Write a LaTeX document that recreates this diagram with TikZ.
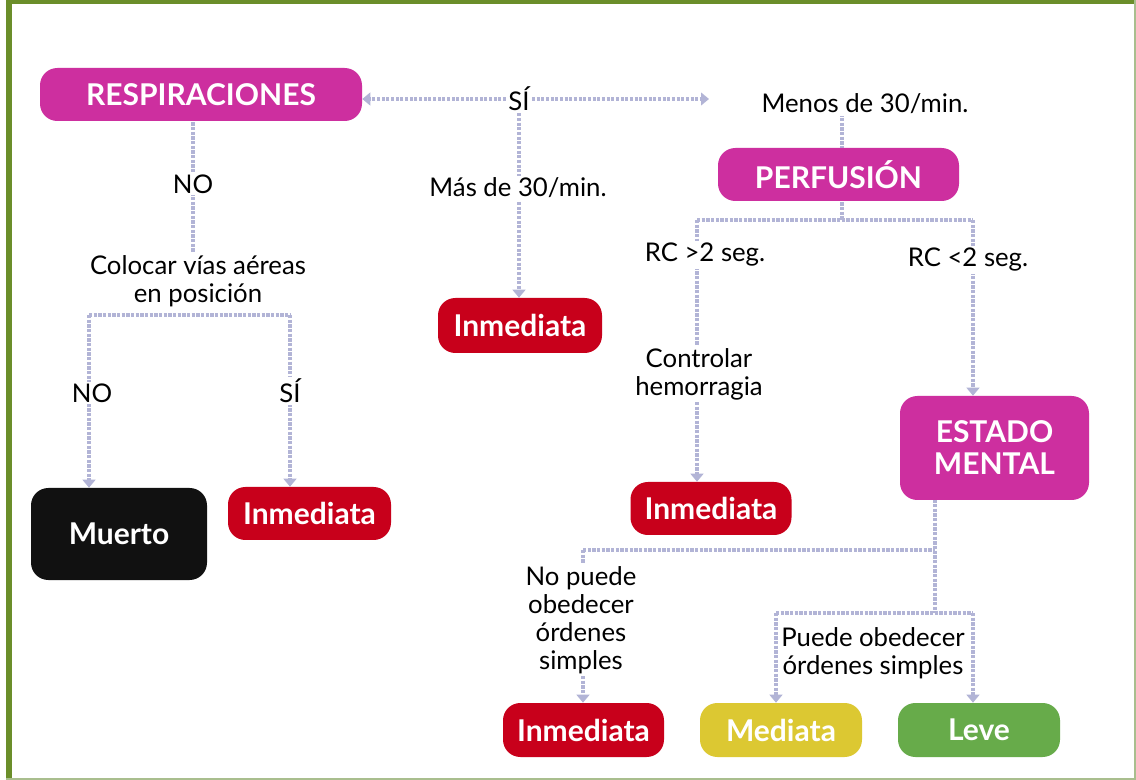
\documentclass[tikz,border=0pt]{standalone}
\usepackage{fontspec}
\setmainfont{Lato}
\usetikzlibrary{arrows.meta}
\definecolor{frameC}{HTML}{6B8E2A}
\definecolor{frameL}{HTML}{A9BE8E}
\definecolor{lineC}{HTML}{B2B4D6}
\definecolor{magC}{HTML}{CD2F9F}
\definecolor{redC}{HTML}{C8001B}
\definecolor{yelC}{HTML}{DCC832}
\definecolor{grnC}{HTML}{67AB4A}
\definecolor{blkC}{HTML}{111111}
\pgfdeclarelayer{back}
\pgfdeclarelayer{bg}
\pgfsetlayers{back,bg,main}
\begin{document}
\begin{tikzpicture}[x=0.75pt,y=-0.75pt,
  box/.style 2 args={rounded corners=13pt, minimum width=#1*0.75pt, minimum height=#2*0.75pt, inner sep=0pt, text=white, font=\fontsize{22.5}{24}\selectfont\bfseries, align=center},
  lbl/.style={fill=white, inner sep=1.5pt, font=\fontsize{19.3}{21}\selectfont, align=center},
  conn/.style={draw=lineC, line width=3pt, dash pattern=on 2.4pt off 1.1pt},
  arr/.style={conn, -{Triangle[width=9.5pt,length=6pt,fill=lineC]}},
]
\useasboundingbox (0,0) rectangle (1136,780);
\begin{pgfonlayer}{back}
\fill[white] (0,0) rectangle (1136,780);
\fill[frameC] (6,0) rectangle (1136,4);
\fill[frameC] (6,0) rectangle (12,780);
\fill[frameL] (1133.5,0) rectangle (1136,780);
\fill[frameL] (6,777.5) rectangle (1136,780);
\end{pgfonlayer}

% boxes
\node[box={322}{53}, fill=magC] (resp) at (201,94.5) {RESPIRACIONES};
\node[box={241}{53}, fill=magC] (perf) at (838.5,174.5) {PERFUSIÓN};
\node[box={164}{55}, fill=redC] (inmA) at (520,325.5) {Inmediata};
\node[box={176}{92}, fill=blkC] (muerto) at (119,534) {Muerto};
\node[box={163}{53}, fill=redC] (inmB) at (309.5,513.5) {Inmediata};
\node[box={161}{53}, fill=redC] (inmC) at (711,508.5) {Inmediata};
\node[box={189}{104}, fill=magC] (estado) at (994.5,448) {ESTADO\\MENTAL};
\node[box={161}{54}, fill=redC] (inmD) at (583.5,730) {Inmediata};
\node[box={162}{54}, fill=yelC] (med) at (781,730) {Mediata};
\node[box={162}{54}, fill=grnC] (leve) at (979,730) {Leve};

% labels
\node[lbl] (si1) at (519,99) {SÍ};
\node[lbl] (menos) at (865,104) {Menos de 30/min.};
\node[lbl] (mas) at (518,188) {Más de 30/min.};
\node[lbl] (no1) at (193,184) {NO};
\node[lbl] (colocar) at (198,281) {Colocar vías aéreas\\en posición};
\node[lbl] (no2) at (92,393) {NO};
\node[lbl] (si2) at (290,391) {SÍ};
\node[lbl] (rc1) at (705,255) {RC >2 seg.};
\node[lbl] (rc2) at (968,260) {RC <2 seg.};
\node[lbl] (ctrl) at (699,374) {Controlar\\hemorragia};
\node[lbl] (nopuede) at (581,620) {No puede\\obedecer\\órdenes\\simples};
\node[lbl] (puede) at (873,653) {Puede obedecer\\órdenes simples};

% junction points
\coordinate (rtip) at (709,99);
\coordinate (pTop) at (842,148);
\coordinate (fL) at (89,315);
\coordinate (fR) at (290,315);
\coordinate (pL) at (697,220);
\coordinate (pR) at (973,220);
\coordinate (eL) at (583,550);
\coordinate (eJ) at (935,550);
\coordinate (mL) at (776,613);
\coordinate (mR) at (973,613);

\begin{pgfonlayer}{bg}
\draw[arr] (si1) -- (si1 -| resp.east);
\draw[arr] (si1) -- (rtip);
\draw[arr] (si1) -- (inmA.north -| si1);
\draw[conn] (menos -| pTop) -- (pTop);
\draw[conn] (resp -| no1) -- (colocar -| no1);
\draw[conn] (fL) -- (fR);
\draw[arr] (fL) -- (muerto.north -| fL);
\draw[arr] (fR) -- (inmB.north -| fR);
\draw[conn] (perf -| pTop) -- (pL -| pTop);
\draw[conn] (pL) -- (pR);
\draw[arr] (pL) -- (inmC.north -| pL);
\draw[arr] (pR) -- (estado.north -| pR);
\draw[conn] (estado -| eJ) -- (mL -| eJ);
\draw[conn] (eL) -- (eJ);
\draw[conn] (mL) -- (mR);
\draw[arr] (eL) -- (inmD.north -| eL);
\draw[arr] (mL) -- (med.north -| mL);
\draw[arr] (mR) -- (leve.north -| mR);
\end{pgfonlayer}
\end{tikzpicture}
\end{document}
